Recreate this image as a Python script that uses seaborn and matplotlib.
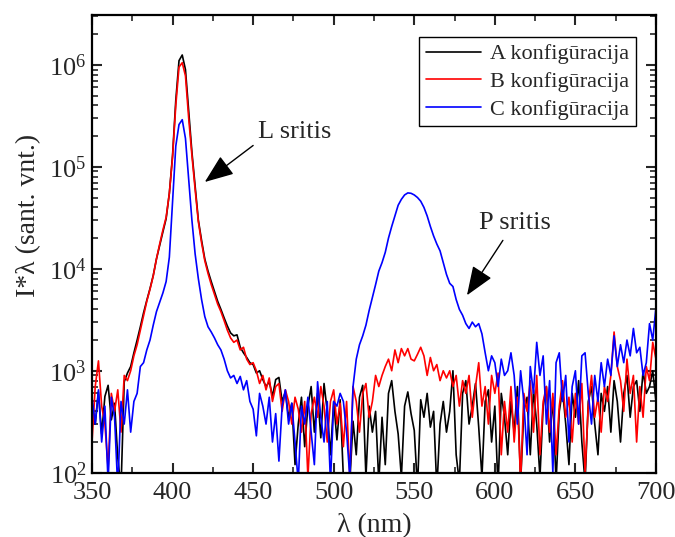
import numpy as np
import pandas as pd
import matplotlib
matplotlib.use('Agg')
import matplotlib.pyplot as plt
import seaborn as sns
from matplotlib.lines import Line2D
from matplotlib.ticker import LogLocator, MultipleLocator, LogFormatterSciNotation, NullFormatter

# wavelength grid (nm), 2 nm step
wavelength = list(range(350, 701, 2))

a_konf = [
    480, 300, 620, 240, 560, 720, 330, 480, 140, 70,
    780, 950, 1100, 1500, 2000, 2700, 3700, 4900, 6400, 8600,
    12500, 17000, 23000, 31000, 55000, 130000, 450000, 1100000, 1250000, 900000,
    350000, 140000, 65000, 30000, 19000, 12500, 9500, 7500, 6000, 4800,
    4000, 3300, 2750, 2350, 2200, 2250, 1700, 1500, 1350, 1200,
    1150, 950, 1000, 820, 700, 780, 560, 820, 860, 500,
    620, 350, 480, 120, 300, 550, 180, 450, 700, 250,
    600, 220, 750, 400, 150, 500, 210, 520, 90, 60,
    80, 320, 150, 550, 720, 90, 450, 250, 400, 80,
    350, 120, 600, 800, 400, 240, 90, 450, 620, 380,
    260, 70, 520, 350, 600, 280, 400, 70, 300, 500,
    250, 400, 1000, 150, 80, 600, 800, 300, 450, 750,
    280, 90, 500, 650, 200, 450, 70, 600, 350, 150,
    500, 250, 700, 80, 400, 550, 150, 650, 300, 90,
    450, 700, 200, 550, 80, 400, 650, 300, 120, 600,
    350, 800, 200, 80, 500, 700, 300, 150, 600, 400,
    700, 250, 800, 500, 200, 600, 900, 350, 700, 800,
    400, 1000, 600, 700, 1000, 500,
]

b_konf = [
    200, 700, 1250, 450, 300, 110, 600, 400, 650, 250,
    900, 800, 1000, 1400, 1800, 2500, 3500, 4800, 6300, 8500,
    12500, 17500, 24000, 32000, 55000, 125000, 400000, 950000, 1050000, 780000,
    300000, 130000, 60000, 29000, 18000, 12000, 9000, 7000, 5600, 4500,
    3800, 3100, 2500, 2100, 1900, 2000, 1600, 1700, 1300, 1150,
    1200, 1000, 750, 900, 650, 850, 500, 700, 750, 400,
    650, 500, 300, 550, 420, 250, 500, 90, 380, 550,
    350, 700, 450, 200, 500, 650, 300, 480, 180, 500,
    90, 700, 500, 250, 600, 750, 350, 500, 900, 700,
    900, 1100, 1300, 1000, 1600, 1200, 1650, 1400, 1650, 1300,
    1250, 1450, 1700, 1400, 900, 1350, 1000, 1150, 800, 1000,
    850, 1000, 700, 900, 450, 800, 600, 900, 350, 700,
    1200, 450, 700, 300, 900, 600, 950, 150, 500, 250,
    700, 200, 550, 80, 600, 400, 800, 250, 900, 150,
    500, 700, 250, 600, 150, 450, 800, 350, 550, 200,
    600, 300, 750, 100, 450, 900, 350, 550, 250, 700,
    500, 900, 2400, 1100, 800, 400, 1300, 600, 900, 200,
    700, 350, 1100, 800, 1900, 1300,
]

c_konf = [
    550, 300, 650, 200, 450, 80, 550, 350, 70, 500,
    300, 650, 250, 500, 600, 1100, 1200, 1600, 2000, 2800,
    3800, 4700, 5800, 7500, 13000, 45000, 160000, 260000, 290000, 190000,
    75000, 30000, 14000, 8000, 5000, 3400, 2700, 2400, 2100, 1800,
    1600, 1300, 1000, 850, 900, 750, 880, 650, 800, 500,
    420, 230, 600, 450, 300, 550, 200, 380, 130, 450,
    650, 300, 480, 200, 80, 450, 300, 550, 250, 120,
    780, 350, 200, 500, 80, 500, 450, 600, 500, 250,
    90, 700, 1300, 1800, 2200, 2800, 3900, 5200, 7000, 9500,
    11500, 14500, 20000, 26000, 33000, 42000, 48000, 53000, 55500, 55000,
    53000, 50000, 46000, 40000, 33000, 26000, 21000, 17500, 15000, 11500,
    8800, 7200, 6700, 5000, 4000, 3500, 2900, 2600, 3000, 2700,
    2900, 2300, 1500, 1000, 1400, 1200, 700, 1300, 900, 1000,
    1500, 900, 300, 1000, 500, 150, 1100, 600, 1900, 900,
    1400, 300, 800, 100, 1200, 1500, 500, 900, 200, 700,
    1000, 300, 1400, 1500, 600, 300, 900, 500, 1200, 700,
    1300, 900, 2200, 1100, 1800, 1200, 2000, 1400, 2600, 1500,
    1700, 900, 1200, 2900, 2000, 4200,
]

series_labels = ['A konfigūracija', 'B konfigūracija', 'C konfigūracija']
series_colors = ['#000000', '#ff0000', '#0000ff']

df = pd.concat([
    pd.DataFrame({'wl': wavelength, 'val': vals, 'konf': lab})
    for vals, lab in zip([a_konf, b_konf, c_konf], series_labels)
], ignore_index=True)

sns.set_style('ticks')
plt.rcParams['font.family'] = ['Liberation Serif', 'DejaVu Serif']
plt.rcParams['mathtext.fontset'] = 'custom'
plt.rcParams['mathtext.rm'] = 'Liberation Serif'
plt.rcParams['mathtext.it'] = 'Liberation Serif:italic'

fig = plt.figure(figsize=(6.75, 5.37), dpi=100)
ax = fig.add_axes([0.1363, 0.1197, 0.8355, 0.852])

sns.lineplot(data=df, x='wl', y='val', hue='konf', hue_order=series_labels,
             palette=series_colors, estimator=None, linewidth=1.2, ax=ax,
             legend=False)

ax.set_yscale('log')
ax.set_xlim(350, 700)
ax.set_ylim(100, 3.07e6)

ax.xaxis.set_major_locator(MultipleLocator(50))
ax.xaxis.set_minor_locator(MultipleLocator(25))
ax.yaxis.set_major_locator(LogLocator(base=10, numticks=20))
ax.yaxis.set_minor_locator(LogLocator(base=10, subs=np.arange(2, 10), numticks=20))
ax.yaxis.set_major_formatter(LogFormatterSciNotation())
ax.yaxis.set_minor_formatter(NullFormatter())

ax.tick_params(which='both', direction='in', top=True, right=True, labelsize=19)
ax.tick_params(axis='x', which='major', pad=7)
ax.tick_params(axis='y', which='major', pad=4)
ax.tick_params(which='major', length=7, width=1.5)
ax.tick_params(which='minor', length=4, width=1.2)
for s in ax.spines.values():
    s.set_linewidth(1.6)
    s.set_color('black')

ax.set_xlabel('λ (nm)', fontsize=20, labelpad=6)
ax.set_ylabel('I*λ (sant. vnt.)', fontsize=20)
ax.yaxis.set_label_coords(-0.09, 0.563)

handles = [Line2D([0], [0], color=c, lw=1.2) for c in series_colors]
leg = ax.legend(handles, series_labels, loc='upper right',
                bbox_to_anchor=(0.9645, 0.952), fontsize=16, frameon=True,
                fancybox=False, framealpha=1, edgecolor='black',
                handlelength=2.5, handletextpad=0.4, labelspacing=0.32,
                borderpad=0.3, borderaxespad=0)
leg.get_frame().set_linewidth(1.0)

arrow = dict(arrowstyle='-|>,head_length=0.9,head_width=0.35', color='black',
             lw=1.0, mutation_scale=20, shrinkA=0, shrinkB=0)
ax.annotate('', xy=(420, 7.1e4), xytext=(450, 1.62e5), arrowprops=arrow)
ax.text(453, 2.2e5, 'L sritis', fontsize=19, ha='left', va='center')
ax.annotate('', xy=(582.7, 5.5e3), xytext=(605, 1.9e4), arrowprops=arrow)
ax.text(590, 2.8e4, 'P sritis', fontsize=19, ha='left', va='center')

fig.savefig('out.png', dpi=100)
